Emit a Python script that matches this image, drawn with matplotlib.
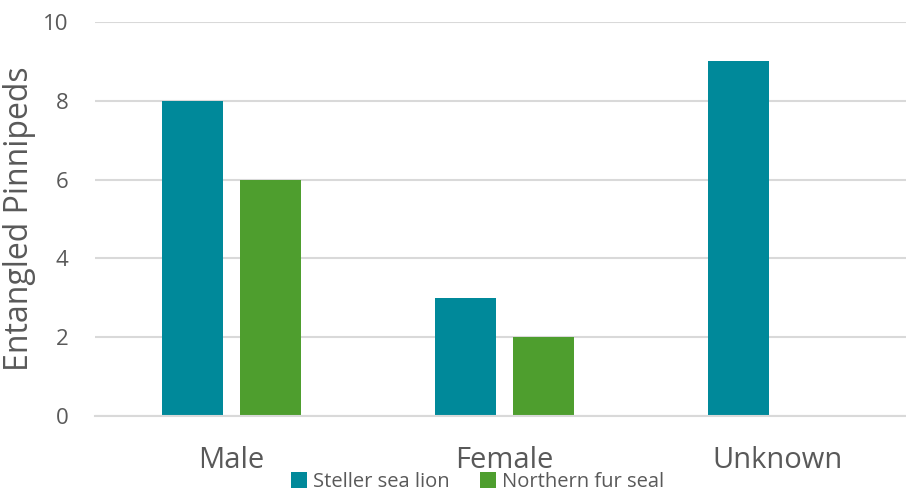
import matplotlib.pyplot as plt
import numpy as np

plt.rcParams['font.family'] = ['Open Sans', 'DejaVu Sans']

# data
categories = ['Male', 'Female', 'Unknown']
steller = [8, 3, 9]
fur_seal = [6, 2, 0]
series_names = ['Steller sea lion', 'Northern fur seal']
teal = '#00899A'
green = '#4E9E2E'
grey = '#595959'

fig = plt.figure(figsize=(9.06, 4.91), dpi=100)
ax = fig.add_axes([0.105, 0.153, 0.904, 0.802])

x = np.arange(len(categories))
w = 0.225
ax.bar(x - 0.143, steller, w, color=teal, label=series_names[0], zorder=2)
ax.bar(x + 0.143, fur_seal, w, color=green, label=series_names[1], zorder=2)

ax.set_xlim(-0.5, len(categories) - 0.5)
ax.set_ylim(0, 10)
ax.set_yticks([0, 2, 4, 6, 8, 10])
ax.set_xticks(x)
ax.set_xticklabels(categories)

ax.yaxis.grid(True, color='#D9D9D9', linewidth=1.5, zorder=0)
ax.set_axisbelow(True)
for s in ['top', 'right', 'left']:
    ax.spines[s].set_visible(False)
ax.spines['bottom'].set_color('#D9D9D9')
ax.spines['bottom'].set_linewidth(1.5)

ax.tick_params(axis='y', length=0, pad=19, labelsize=16, labelcolor=grey)
ax.tick_params(axis='x', length=0, pad=22, labelsize=21, labelcolor=grey)
ax.set_ylabel('Entangled Pinnipeds', fontsize=23, color=grey, labelpad=5)

fig.legend(loc='center', bbox_to_anchor=(0.527, 0.018), ncol=2, frameon=False,
           fontsize=14.5, labelcolor=grey, handlelength=0.8, handleheight=0.8,
           handletextpad=0.3, columnspacing=1.5, borderpad=0)

fig.savefig('out.png', dpi=100)
